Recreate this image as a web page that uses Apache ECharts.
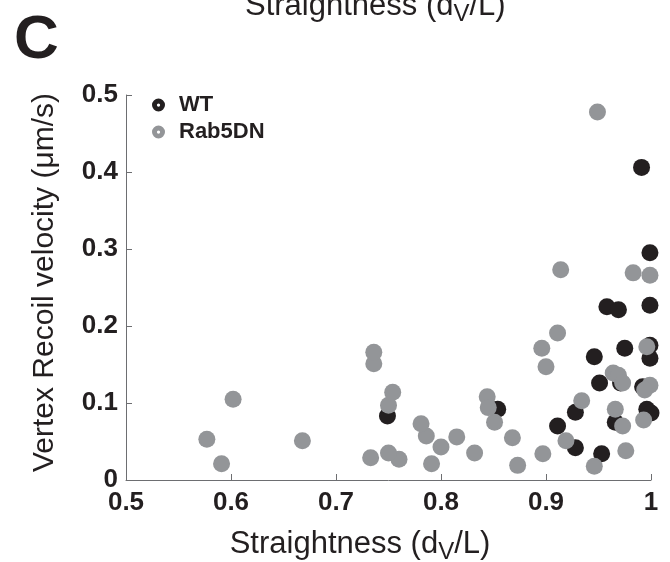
<!DOCTYPE html>
<html>
<head>
<meta charset="utf-8">
<script src="https://cdn.jsdelivr.net/npm/echarts@6/dist/echarts.min.js"></script>
<style>
  html, body { margin: 0; padding: 0; background: #fff; }
  #main { width: 670px; height: 562px; }
</style>
</head>
<body>
<div id="main"></div>
<script>
// data
var seriesNames = ['WT', 'Rab5DN'];
var xTicks = [0.5, 0.6, 0.7, 0.8, 0.9, 1];
var yTicks = [0, 0.1, 0.2, 0.3, 0.4, 0.5];

var wtX = [0.991, 0.999, 0.999, 0.958, 0.969, 0.975, 0.999, 0.999, 0.946, 0.971, 0.951,
           0.992, 0.928, 0.966, 0.996, 1.0, 0.911, 0.928, 0.953, 0.854, 0.749];
var wtY = [0.406, 0.295, 0.227, 0.225, 0.221, 0.171, 0.175, 0.158, 0.160, 0.126, 0.126,
           0.121, 0.088, 0.075, 0.092, 0.087, 0.070, 0.042, 0.034, 0.092, 0.083];

var rabX = [0.949, 0.914, 0.983, 0.999, 0.911, 0.896, 0.900, 0.996, 0.964, 0.969, 0.973,
            0.999, 0.994, 0.934, 0.966, 0.973, 0.993, 0.919, 0.946, 0.976, 0.897, 0.873,
            0.868, 0.851, 0.844, 0.845, 0.832, 0.815, 0.800, 0.791, 0.786, 0.781, 0.760,
            0.750, 0.733, 0.750, 0.754, 0.736, 0.736, 0.668, 0.602, 0.591, 0.577];
var rabY = [0.478, 0.273, 0.269, 0.266, 0.191, 0.171, 0.147, 0.173, 0.139, 0.136, 0.126,
            0.123, 0.117, 0.103, 0.092, 0.070, 0.078, 0.051, 0.018, 0.038, 0.034, 0.019,
            0.055, 0.075, 0.108, 0.094, 0.035, 0.056, 0.043, 0.021, 0.057, 0.073, 0.027,
            0.035, 0.029, 0.097, 0.114, 0.151, 0.166, 0.051, 0.105, 0.021, 0.053];

function pairs(xs, ys) {
    var out = [];
    for (var i = 0; i < xs.length; i++) out.push([xs[i], ys[i]]);
    return out;
}

var FONT = 'Liberation Sans';
var INK = '#231f20';
var GREY = '#939598';
var AXIS = '#6d6e71';
// matlab style legend marker: dot with a small hole
var markerIcon = 'path://M10,0A10,10,0,1,1,10,20A10,10,0,1,1,10,0ZM10,7.5A2.5,2.5,0,1,0,10,12.5A2.5,2.5,0,1,0,10,7.5Z';

var titleRich = {
    sub: { fontSize: 24, fontFamily: FONT, color: INK, padding: [16, 0, 0, 0] }
};

var myChart = echarts.init(document.getElementById('main'), null, { renderer: 'canvas' });
var option = {
    backgroundColor: '#fff',
    animation: false,
    textStyle: { fontFamily: FONT },
    grid: { left: 126, right: 19, top: 95, bottom: 82, containLabel: false, outerBoundsMode: 'none' },
    legend: {
        orient: 'vertical',
        left: 152,
        top: 94,
        padding: 0,
        itemGap: 5,
        itemWidth: 13,
        itemHeight: 13,
        data: [
            { name: seriesNames[0], icon: markerIcon, itemStyle: { color: INK } },
            { name: seriesNames[1], icon: markerIcon, itemStyle: { color: GREY } }
        ],
        textStyle: { fontFamily: FONT, fontSize: 22, fontWeight: 'bold', color: INK, padding: [0, 0, 0, 9] }
    },
    graphic: [
        {
            type: 'text', left: 14, top: 10,
            style: { text: 'C', fontFamily: FONT, fontSize: 62, fontWeight: 'bold', fill: INK }
        },
        {
            type: 'text', left: 245, top: -9,
            style: {
                text: 'Straightness (d{sub|V}/L)', fontFamily: FONT, fontSize: 31, fill: INK,
                rich: titleRich
            }
        }
    ],
    xAxis: {
        type: 'value',
        min: xTicks[0],
        max: xTicks[xTicks.length - 1],
        interval: 0.1,
        name: 'Straightness (d{sub|V}/L)',
        nameLocation: 'middle',
        nameGap: 44,
        nameTextStyle: { fontFamily: FONT, fontSize: 31, color: INK, padding: [0, 57, 0, 0], rich: titleRich },
        axisLine: { lineStyle: { color: AXIS, width: 1 } },
        axisTick: { inside: true, length: 6, lineStyle: { color: AXIS } },
        axisLabel: { margin: 10, fontSize: 26, fontWeight: 'bold', color: INK, fontFamily: FONT },
        splitLine: { show: false }
    },
    yAxis: {
        type: 'value',
        min: yTicks[0],
        max: yTicks[yTicks.length - 1],
        interval: 0.1,
        name: 'Vertex Recoil velocity (\u03bcm/s)',
        nameLocation: 'middle',
        nameGap: 66,
        nameTextStyle: { fontFamily: FONT, fontSize: 30, color: INK, padding: [0, 0, 0, 10] },
        axisLine: { lineStyle: { color: AXIS, width: 1 } },
        axisTick: { inside: true, length: 6, lineStyle: { color: AXIS } },
        axisLabel: { margin: 8, fontSize: 26, fontWeight: 'bold', color: INK, fontFamily: FONT, padding: [4, 0, 0, 0] },
        splitLine: { show: false }
    },
    series: [
        {
            name: seriesNames[0],
            type: 'scatter',
            symbol: 'circle',
            symbolSize: 17,
            clip: false,
            itemStyle: { color: INK, opacity: 1 },
            data: pairs(wtX, wtY)
        },
        {
            name: seriesNames[1],
            type: 'scatter',
            symbol: 'circle',
            symbolSize: 17,
            clip: false,
            itemStyle: { color: GREY, opacity: 1 },
            data: pairs(rabX, rabY)
        }
    ]
};
myChart.setOption(option);
</script>
</body>
</html>
